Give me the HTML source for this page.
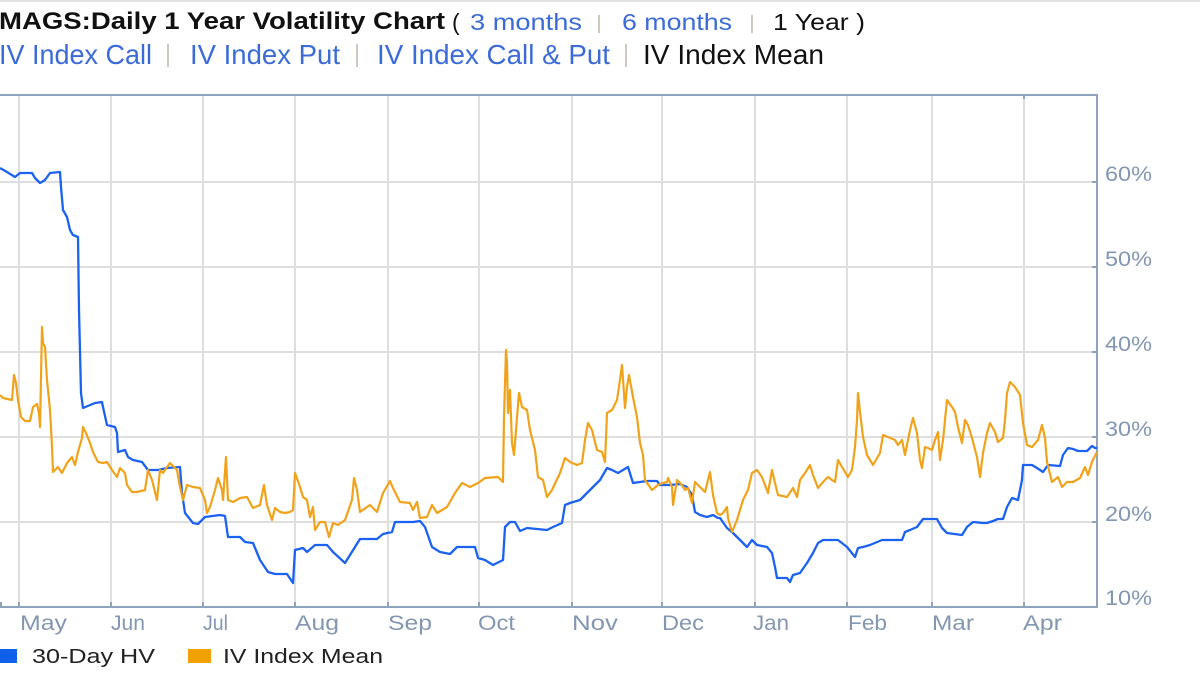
<!DOCTYPE html>
<html>
<head>
<meta charset="utf-8">
<style>
  html,body{margin:0;padding:0;background:#fff;}
  body{width:1200px;height:681px;overflow:hidden;}
  svg{display:block;}
  text{font-family:"Liberation Sans","DejaVu Sans",sans-serif;}
</style>
</head>
<body>
<svg width="1200" height="681" viewBox="0 0 1200 681" xmlns="http://www.w3.org/2000/svg">
  <rect x="0" y="0" width="1200" height="681" fill="#fff"/>
  <rect x="0" y="0" width="1200" height="2" fill="#e3e3e3"/>

  <!-- Header line 1 -->
  <text x="-1" y="29" font-size="24" font-weight="bold" fill="#111" textLength="446" lengthAdjust="spacingAndGlyphs">MAGS:Daily 1 Year Volatility Chart</text>
  <text x="452" y="30" font-size="23" fill="#111">(</text>
  <text x="470" y="30" font-size="23" fill="#3b6bd6" textLength="112" lengthAdjust="spacingAndGlyphs">3 months</text>
  <rect x="598" y="15" width="2" height="18" fill="#cfc8bd"/>
  <text x="622" y="30" font-size="23" fill="#3b6bd6" textLength="110" lengthAdjust="spacingAndGlyphs">6 months</text>
  <rect x="751" y="15" width="2" height="18" fill="#cfc8bd"/>
  <text x="773" y="30" font-size="23" fill="#111" textLength="92" lengthAdjust="spacingAndGlyphs">1 Year )</text>

  <!-- Header line 2 -->
  <text x="-1" y="64" font-size="28" fill="#3b6bd6" textLength="153" lengthAdjust="spacingAndGlyphs">IV Index Call</text>
  <rect x="167" y="44" width="2" height="23" fill="#cfc8bd"/>
  <text x="190" y="64" font-size="28" fill="#3b6bd6" textLength="150" lengthAdjust="spacingAndGlyphs">IV Index Put</text>
  <rect x="356" y="44" width="2" height="23" fill="#cfc8bd"/>
  <text x="377" y="64" font-size="28" fill="#3b6bd6" textLength="233" lengthAdjust="spacingAndGlyphs">IV Index Call &amp; Put</text>
  <rect x="625" y="44" width="2" height="23" fill="#cfc8bd"/>
  <text x="643" y="64" font-size="28" fill="#111" textLength="181" lengthAdjust="spacingAndGlyphs">IV Index Mean</text>

  <!-- Grid -->
  <g stroke="#dedede" stroke-width="2" fill="none">
    <line x1="0" y1="182" x2="1097" y2="182"/>
    <line x1="0" y1="267" x2="1097" y2="267"/>
    <line x1="0" y1="352" x2="1097" y2="352"/>
    <line x1="0" y1="437" x2="1097" y2="437"/>
    <line x1="0" y1="522" x2="1097" y2="522"/>
    <line x1="19" y1="96" x2="19" y2="607"/>
    <line x1="111" y1="96" x2="111" y2="607"/>
    <line x1="203" y1="96" x2="203" y2="607"/>
    <line x1="295" y1="96" x2="295" y2="607"/>
    <line x1="388" y1="96" x2="388" y2="607"/>
    <line x1="479" y1="96" x2="479" y2="607"/>
    <line x1="572" y1="96" x2="572" y2="607"/>
    <line x1="662" y1="96" x2="662" y2="607"/>
    <line x1="755" y1="96" x2="755" y2="607"/>
    <line x1="847" y1="96" x2="847" y2="607"/>
    <line x1="932" y1="96" x2="932" y2="607"/>
    <line x1="1024" y1="96" x2="1024" y2="607"/>
  </g>

  <!-- Axes -->
  <g stroke="#8fa3bf" stroke-width="2" fill="none">
    <line x1="0" y1="95" x2="1098" y2="95"/>
    <line x1="0" y1="607" x2="1098" y2="607"/>
    <line x1="1097" y1="94" x2="1097" y2="608"/>
    <line x1="1" y1="602" x2="1" y2="607"/>
    <line x1="19" y1="602" x2="19" y2="607"/>
    <line x1="111" y1="602" x2="111" y2="607"/>
    <line x1="203" y1="602" x2="203" y2="607"/>
    <line x1="295" y1="602" x2="295" y2="607"/>
    <line x1="388" y1="602" x2="388" y2="607"/>
    <line x1="479" y1="602" x2="479" y2="607"/>
    <line x1="572" y1="602" x2="572" y2="607"/>
    <line x1="662" y1="602" x2="662" y2="607"/>
    <line x1="755" y1="602" x2="755" y2="607"/>
    <line x1="847" y1="602" x2="847" y2="607"/>
    <line x1="932" y1="602" x2="932" y2="607"/>
    <line x1="1024" y1="602" x2="1024" y2="607"/>
    <line x1="1024" y1="95" x2="1024" y2="99"/>
    <line x1="1092" y1="182" x2="1097" y2="182"/>
    <line x1="1092" y1="267" x2="1097" y2="267"/>
    <line x1="1092" y1="352" x2="1097" y2="352"/>
    <line x1="1092" y1="437" x2="1097" y2="437"/>
    <line x1="1092" y1="522" x2="1097" y2="522"/>
  </g>

  <!-- Y labels -->
  <g font-size="21" fill="#8397b2">
    <text x="1105" y="181" textLength="47" lengthAdjust="spacingAndGlyphs">60%</text>
    <text x="1105" y="266" textLength="47" lengthAdjust="spacingAndGlyphs">50%</text>
    <text x="1105" y="351" textLength="47" lengthAdjust="spacingAndGlyphs">40%</text>
    <text x="1105" y="436" textLength="47" lengthAdjust="spacingAndGlyphs">30%</text>
    <text x="1105" y="521" textLength="47" lengthAdjust="spacingAndGlyphs">20%</text>
    <text x="1105" y="605" textLength="47" lengthAdjust="spacingAndGlyphs">10%</text>
  </g>

  <!-- X labels -->
  <g font-size="21" fill="#8397b2">
    <text x="20" y="630" textLength="47" lengthAdjust="spacingAndGlyphs">May</text>
    <text x="111" y="630" textLength="34" lengthAdjust="spacingAndGlyphs">Jun</text>
    <text x="203" y="630" textLength="25" lengthAdjust="spacingAndGlyphs">Jul</text>
    <text x="295" y="630" textLength="44" lengthAdjust="spacingAndGlyphs">Aug</text>
    <text x="388" y="630" textLength="44" lengthAdjust="spacingAndGlyphs">Sep</text>
    <text x="478" y="630" textLength="37" lengthAdjust="spacingAndGlyphs">Oct</text>
    <text x="572" y="630" textLength="46" lengthAdjust="spacingAndGlyphs">Nov</text>
    <text x="662" y="630" textLength="42" lengthAdjust="spacingAndGlyphs">Dec</text>
    <text x="753" y="630" textLength="36" lengthAdjust="spacingAndGlyphs">Jan</text>
    <text x="848" y="630" textLength="39" lengthAdjust="spacingAndGlyphs">Feb</text>
    <text x="932" y="630" textLength="42" lengthAdjust="spacingAndGlyphs">Mar</text>
    <text x="1023" y="630" textLength="39" lengthAdjust="spacingAndGlyphs">Apr</text>
  </g>

  <!-- Series -->
  <polyline fill="none" stroke="#1c62f0" stroke-width="2.3" stroke-linejoin="round" points="0,168 7,172 15,177 20,173 32,173 35,178 40,183 45,180 50,173 60,172 61,187 63,210 67,217 70,230 73,235 78,237 79,310 81,393 83,408 95,403 102,402 103,407 107,425 115,427 117,433 118,452 125,450 128,457 133,460 142,462 148,470 158,470 167,468 180,467 182,493 185,513 193,523 198,524 205,517 220,515 225,516 228,537 240,537 245,542 253,543 260,560 268,572 275,574 287,574 293,583 295,550 303,548 307,552 315,545 327,545 333,552 345,563 355,547 360,539 373,539 377,539 383,534 392,532 395,522 413,522 420,521 425,527 432,547 440,552 450,554 457,547 475,547 478,558 485,560 493,565 503,560 505,527 510,522 515,522 520,531 527,528 537,529 547,530 553,527 562,523 565,505 570,503 580,500 587,493 593,487 600,480 607,468 612,470 618,473 623,470 628,467 633,483 640,482 647,481 657,481 660,485 670,485 680,484 687,487 692,495 695,512 700,515 707,517 713,515 718,518 720,518 727,528 733,533 740,540 747,547 752,540 757,545 767,547 772,553 775,567 777,578 787,578 790,582 793,575 800,573 807,563 813,553 818,543 823,540 838,540 847,547 855,557 858,548 863,547 870,545 882,540 902,540 905,532 910,530 917,527 923,519 937,519 942,528 947,533 962,535 967,527 973,522 983,523 987,523 993,521 998,519 1003,519 1007,507 1012,498 1018,500 1022,480 1023,465 1032,465 1037,468 1043,472 1048,465 1060,466 1063,455 1068,448 1073,449 1078,451 1087,451 1092,446 1095,448 1097,448"/>

  <polyline fill="none" stroke="#f0a31a" stroke-width="2.2" stroke-linejoin="round" points="0,395 3,398 12,400 14,375 16,383 18,400 21,417 25,421 30,421 33,407 37,404 39,413 40,427 41,378 42,327 43,343 45,347 47,380 50,410 52,447 53,472 58,467 62,473 67,463 72,457 75,465 78,452 82,438 83,427 86,433 90,443 93,452 98,462 103,463 107,462 112,470 117,477 120,468 125,473 127,485 132,492 137,492 145,490 148,470 152,480 157,500 160,470 163,473 167,467 170,463 177,470 180,487 183,500 187,485 193,487 200,488 205,500 207,513 210,507 215,490 218,478 222,490 223,500 226,457 228,500 233,502 240,498 247,497 253,508 260,505 264,485 267,505 272,520 275,508 280,512 285,513 290,512 293,510 295,473 300,487 303,497 307,500 310,517 313,507 315,530 320,522 325,522 329,537 333,523 338,525 345,520 352,500 354,478 357,490 360,512 367,507 370,505 377,512 383,493 390,481 393,488 400,502 410,503 413,510 417,502 420,518 427,517 432,505 437,513 447,507 455,493 462,483 470,487 478,483 485,478 498,477 503,482 504,417 506,350 507,363 508,413 510,390 512,443 514,455 516,430 519,393 522,407 527,410 530,430 535,450 538,477 543,480 547,497 552,490 560,473 565,458 570,462 577,465 582,463 585,440 588,423 592,430 597,450 602,452 605,462 607,413 612,410 617,400 620,380 622,365 625,408 627,387 629,375 633,397 637,417 640,443 643,455 645,480 652,490 658,485 663,483 667,482 668,478 672,487 673,505 677,480 682,485 685,490 688,488 692,503 695,482 700,487 705,492 710,472 713,495 717,513 720,515 723,513 727,507 728,518 732,532 737,520 743,500 748,490 752,473 757,470 762,477 768,493 772,470 775,483 778,495 787,497 793,488 797,497 800,480 805,473 810,465 813,475 818,488 823,482 828,477 832,480 835,482 838,460 842,467 848,477 852,470 855,447 857,420 858,393 860,412 863,437 867,455 873,465 880,453 883,435 888,437 895,440 898,445 902,440 905,455 910,430 913,418 917,433 920,460 922,468 925,447 928,448 932,450 935,440 938,432 940,460 943,440 947,400 952,407 955,412 958,427 962,443 965,420 968,425 972,438 977,457 980,477 983,453 987,433 990,423 995,432 998,442 1003,438 1005,420 1007,393 1010,382 1015,387 1020,395 1023,423 1027,445 1032,447 1038,440 1042,425 1045,438 1047,462 1052,482 1058,477 1062,487 1067,482 1073,482 1080,478 1085,467 1088,475 1092,462 1097,452"/>

  <!-- Legend -->
  <rect x="-5" y="649" width="22" height="14" fill="#1060ea"/>
  <text x="32" y="663" font-size="20" fill="#222" textLength="123" lengthAdjust="spacingAndGlyphs">30-Day HV</text>
  <rect x="188" y="649" width="23" height="14" fill="#f0a202"/>
  <text x="223" y="663" font-size="20" fill="#222" textLength="160" lengthAdjust="spacingAndGlyphs">IV Index Mean</text>
</svg>
</body>
</html>
